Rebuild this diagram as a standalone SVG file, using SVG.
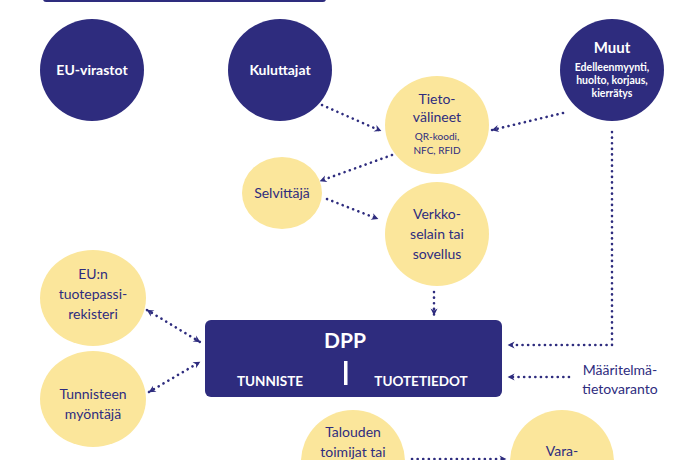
<svg xmlns="http://www.w3.org/2000/svg" width="700" height="460" viewBox="0 0 700 460">
<style>
.dk{fill:#2e2c7e}.lt{fill:#fbe69b}
text{font-family:Lato,"Open Sans",sans-serif;text-anchor:middle}
.w{fill:#fff;font-weight:bold}.n{fill:#2e2c7e}
.c{fill:none;stroke:#2e2c7e;stroke-width:2.6;stroke-dasharray:0.1 5.5;stroke-linecap:round}
</style>
<defs>
<marker id="a" viewBox="0 0 10 10" refX="9" refY="5" markerWidth="5" markerHeight="5" orient="auto-start-reverse" markerUnits="userSpaceOnUse" style="overflow:visible">
<path d="M0,0 L10,5 L0,10 L3,5 z" fill="#2e2c7e" transform="scale(1.4) translate(-3,-1.5)"/>
</marker>
</defs>
<rect x="43" y="-20" width="283" height="22" rx="3" class="dk"/>
<g id="connectors">
<path class="c" d="M322,105 L381,131" marker-end="url(#a)"/>
<path class="c" d="M563,113 L492,130" marker-end="url(#a)"/>
<path class="c" d="M392,155 L320,181" marker-end="url(#a)"/>
<path class="c" d="M327,199 L378,219" marker-end="url(#a)"/>
<path class="c" d="M434,292 L434,315" marker-end="url(#a)"/>
<path class="c" d="M147,310 L200,342" marker-start="url(#a)" marker-end="url(#a)"/>
<path class="c" d="M149,392 L200,362" marker-start="url(#a)" marker-end="url(#a)"/>
<path class="c" d="M612,132 L612,345 L508,345" marker-end="url(#a)"/>
<path class="c" d="M569,377 L508,377" marker-end="url(#a)"/>
<path class="c" d="M412,459 L506,459" marker-end="url(#a)"/>
</g>
<g id="eu-virastot"><ellipse cx="92" cy="70" rx="52" ry="51" class="dk"/><text x="92" y="75" class="w" font-size="14">EU-virastot</text></g>
<g id="kuluttajat"><ellipse cx="280" cy="70" rx="52" ry="51" class="dk"/><text x="280" y="75" class="w" font-size="14">Kuluttajat</text></g>
<g id="muut"><ellipse cx="612" cy="70" rx="52" ry="51" class="dk"/><text x="612" y="53" class="w" font-size="15">Muut</text>
<text class="w" font-size="10.5"><tspan x="612" y="71">Edelleenmyynti,</tspan><tspan x="612" y="84">huolto, korjaus,</tspan><tspan x="612" y="97">kierrätys</tspan></text></g>
<g id="tietovalineet"><ellipse cx="437" cy="125" rx="52" ry="49" class="lt"/><text class="n" font-size="14"><tspan x="437" y="104">Tieto-</tspan><tspan x="437" y="122">välineet</tspan></text>
<text class="n" font-size="10"><tspan x="437" y="140">QR-koodi,</tspan><tspan x="437" y="154">NFC, RFID</tspan></text></g>
<g id="selvittaja"><ellipse cx="282" cy="193" rx="40" ry="36" class="lt"/><text x="282" y="198" class="n" font-size="14">Selvittäjä</text></g>
<g id="verkkoselain"><ellipse cx="437" cy="234" rx="52" ry="52" class="lt"/><text class="n" font-size="14"><tspan x="437" y="219">Verkko-</tspan><tspan x="437" y="239">selain tai</tspan><tspan x="437" y="259">sovellus</tspan></text></g>
<g id="eu-rekisteri"><ellipse cx="93" cy="298" rx="53" ry="48" class="lt"/><text class="n" font-size="14"><tspan x="93" y="279">EU:n</tspan><tspan x="93" y="299">tuotepassi-</tspan><tspan x="93" y="319">rekisteri</tspan></text></g>
<g id="tunnisteen-myontaja"><ellipse cx="93" cy="399" rx="53" ry="48" class="lt"/><text class="n" font-size="14"><tspan x="93" y="399">Tunnisteen</tspan><tspan x="93" y="419">myöntäjä</tspan></text></g>
<g id="dpp"><rect x="205" y="320" width="297" height="77" rx="6" class="dk"/><text x="345" y="348" class="w" font-size="21">DPP</text>
<rect x="344" y="361" width="3.5" height="24" fill="#fff"/>
<text x="270" y="386" class="w" font-size="13.5">TUNNISTE</text><text x="421" y="386" class="w" font-size="13.5">TUOTETIEDOT</text></g>
<g id="maaritelma"><text class="n" font-size="14"><tspan x="620" y="375">Määritelmä-</tspan><tspan x="620" y="394">tietovaranto</tspan></text></g>
<g id="talouden"><ellipse cx="353" cy="462" rx="52" ry="52" class="lt"/><text class="n" font-size="14"><tspan x="353" y="437">Talouden</tspan><tspan x="353" y="457">toimijat tai</tspan></text></g>
<g id="vara"><ellipse cx="562" cy="462" rx="52" ry="52" class="lt"/><text x="562" y="456" class="n" font-size="14">Vara-</text></g>
</svg>
